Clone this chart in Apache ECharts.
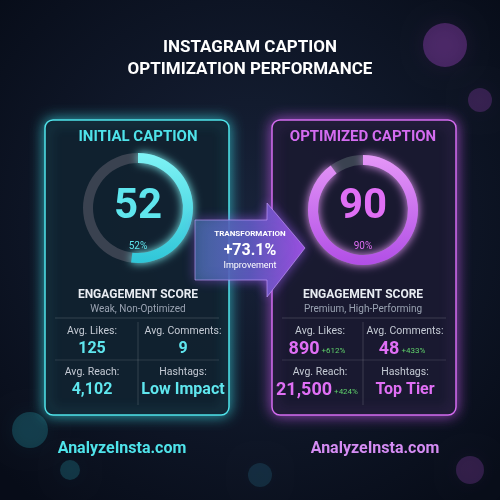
<!DOCTYPE html>
<html><head><meta charset="utf-8">
<script src="https://cdn.jsdelivr.net/npm/echarts@6/dist/echarts.min.js"></script>
<style>html,body{margin:0;padding:0;background:#0b1220}#c{width:500px;height:500px}</style>
</head><body><div id="c"></div>
<script>
const titleLines = ["INSTAGRAM CAPTION", "OPTIMIZATION PERFORMANCE"];
const panelTitles = ["INITIAL CAPTION", "OPTIMIZED CAPTION"];
const scores = [52, 90];
const scoreNotes = ["Weak, Non-Optimized", "Premium, High-Performing"];
const metricLabels = ["Avg. Likes:", "Avg. Comments:", "Avg. Reach:", "Hashtags:"];
const initialMetrics = ["125", "9", "4,102", "Low Impact"];
const optimizedMetrics = ["890", "48", "21,500", "Top Tier"];
const optimizedGains = ["+612%", "+433%", "+424%", ""];
const transformation = ["TRANSFORMATION", "+73.1%", "Improvement"];
const footer = "AnalyzeInsta.com";

const chart = echarts.init(document.getElementById('c'));
const F = 'Roboto, "Noto Sans", sans-serif';
const cyan = '#4fe3ea', purple = '#d46cf0';
const panels = [
  {x:45, cx:138, color:cyan, glow:'rgba(60,220,230,0.8)', metrics:initialMetrics, gains:["","","",""], valColor:'#5fe6ee', cols:[92,183]},
  {x:272, cx:363, color:purple, glow:'rgba(200,90,240,0.8)', metrics:optimizedMetrics, gains:optimizedGains, valColor:'#e06ff5', cols:[320,405]}
];
const g = [];
g.push({type:'rect', shape:{x:0,y:0,width:500,height:500}, style:{fill:new echarts.graphic.RadialGradient(0.5,0.45,0.7,[{offset:0,color:'#18233a'},{offset:1,color:'#070c18'}])}, z:0});
[[445,45,22,'rgba(190,80,230,0.3)'],[480,100,12,'rgba(190,80,230,0.22)'],[30,430,18,'rgba(50,200,220,0.22)'],[70,470,10,'rgba(50,200,220,0.2)'],[470,470,14,'rgba(200,90,240,0.2)'],[260,475,12,'rgba(60,180,220,0.15)']].forEach(c=>{
  g.push({type:'circle', shape:{cx:c[0],cy:c[1],r:c[2]}, style:{fill:c[3], shadowBlur:20, shadowColor:c[3]}, z:1});
});
titleLines.forEach((t,i)=>g.push({type:'text', x:250, y:48+i*22, style:{text:t, fill:'#fff', font:'bold 17px '+F, align:'center', verticalAlign:'middle'}, z:5}));
panels.forEach((p,i)=>{
  g.push({type:'rect', shape:{x:p.x,y:120,width:184,height:295,r:8}, style:{fill:'rgba(14,22,36,0.92)', stroke:p.color, lineWidth:1.5, shadowBlur:14, shadowColor:p.glow}, z:3});
  g.push({type:'text', x:p.cx, y:137, style:{text:panelTitles[i], fill:p.color, font:'bold 15px '+F, align:'center', verticalAlign:'middle'}, z:5});
  g.push({type:'text', x:p.cx, y:207, style:{text:String(scores[i]), fill:p.valColor, font:'bold 42px '+F, align:'center', verticalAlign:'middle', shadowBlur:8, shadowColor:p.glow}, z:5});
  g.push({type:'text', x:p.cx, y:246, style:{text:scores[i]+'%', fill:p.valColor, font:'10px '+F, align:'center', verticalAlign:'middle'}, z:5});
  g.push({type:'text', x:p.cx, y:295, style:{text:'ENGAGEMENT SCORE', fill:'#e8ecf2', font:'bold 12px '+F, align:'center', verticalAlign:'middle'}, z:5});
  g.push({type:'text', x:p.cx, y:309, style:{text:scoreNotes[i], fill:'#9aa3b2', font:'10px '+F, align:'center', verticalAlign:'middle'}, z:5});
  g.push({type:'line', shape:{x1:p.x+10,y1:318,x2:p.x+174,y2:318}, style:{stroke:'rgba(255,255,255,0.15)'}, z:4});
  g.push({type:'line', shape:{x1:p.x+10,y1:360,x2:p.x+174,y2:360}, style:{stroke:'rgba(255,255,255,0.12)'}, z:4});
  g.push({type:'line', shape:{x1:p.cx,y1:322,x2:p.cx,y2:405}, style:{stroke:'rgba(255,255,255,0.15)'}, z:4});
  metricLabels.forEach((l,k)=>{
    const cx = p.cols[k%2], row = Math.floor(k/2);
    g.push({type:'text', x:cx, y:331+row*41, style:{text:l, fill:'#c4cad4', font:'10.5px '+F, align:'center', verticalAlign:'middle'}, z:5});
    const v = p.metrics[k], gain = p.gains[k];
    if (gain) {
      g.push({type:'text', x:cx-3, y:349+row*41, style:{rich:{a:{fill:p.valColor,font:'bold 18px '+F},b:{fill:'#5fd06a',font:'8px '+F,padding:[4,0,0,2]}}, text:'{a|'+v+'}{b|'+gain+'}', align:'center', verticalAlign:'middle'}, z:5});
    } else {
      g.push({type:'text', x:cx, y:349+row*41, style:{text:v, fill:p.valColor, font:'bold 16px '+F, align:'center', verticalAlign:'middle'}, z:5});
    }
  });
  g.push({type:'text', x:[122,375][i], y:449, style:{text:footer, fill:[cyan,'#d58cf3'][i], font:'bold 16px '+F, align:'center', verticalAlign:'middle', shadowBlur:6, shadowColor:p.glow}, z:5});
});
g.push({type:'polygon', shape:{points:[[195,220],[267,220],[267,203],[305,248],[267,297],[267,280],[195,280]]},
  style:{fill:new echarts.graphic.LinearGradient(0,0,1,0,[{offset:0,color:'rgba(60,120,170,0.6)'},{offset:0.5,color:'#5a57b8'},{offset:1,color:'#9b4fe0'}]), stroke:'rgba(200,160,255,0.6)', lineWidth:1, shadowBlur:12, shadowColor:'rgba(150,90,240,0.7)'}, z:6});
transformation.forEach((t,i)=>g.push({type:'text', x:250, y:[234,251,266][i], style:{text:t, fill:'#fff', font:[ 'bold 8px ','bold 16px ','9px '][i]+F, align:'center', verticalAlign:'middle'}, z:7}));

function gauge(cx, cy, val, c1, c2){
  return {type:'gauge', center:[cx,cy], radius:55, startAngle:90, endAngle:-270, min:0, max:100,
    progress:{show:true, width:10, itemStyle:{color:new echarts.graphic.LinearGradient(0,0,0,1,[{offset:0,color:c1},{offset:1,color:c2}]), shadowBlur:10, shadowColor:c1}},
    axisLine:{lineStyle:{width:10, color:[[1,'#3a4250']]}}, pointer:{show:false}, axisTick:{show:false}, splitLine:{show:false}, axisLabel:{show:false},
    detail:{show:false}, title:{show:false}, data:[{value:val}], z:4};
}
chart.setOption({backgroundColor:'#0b1220', graphic:{elements:g},
  series:[gauge(138,208,scores[0],'#7ff3f5','#2fc6d8'), gauge(363,210,scores[1],'#e597f7','#b14ee6')]});
</script></body></html>
